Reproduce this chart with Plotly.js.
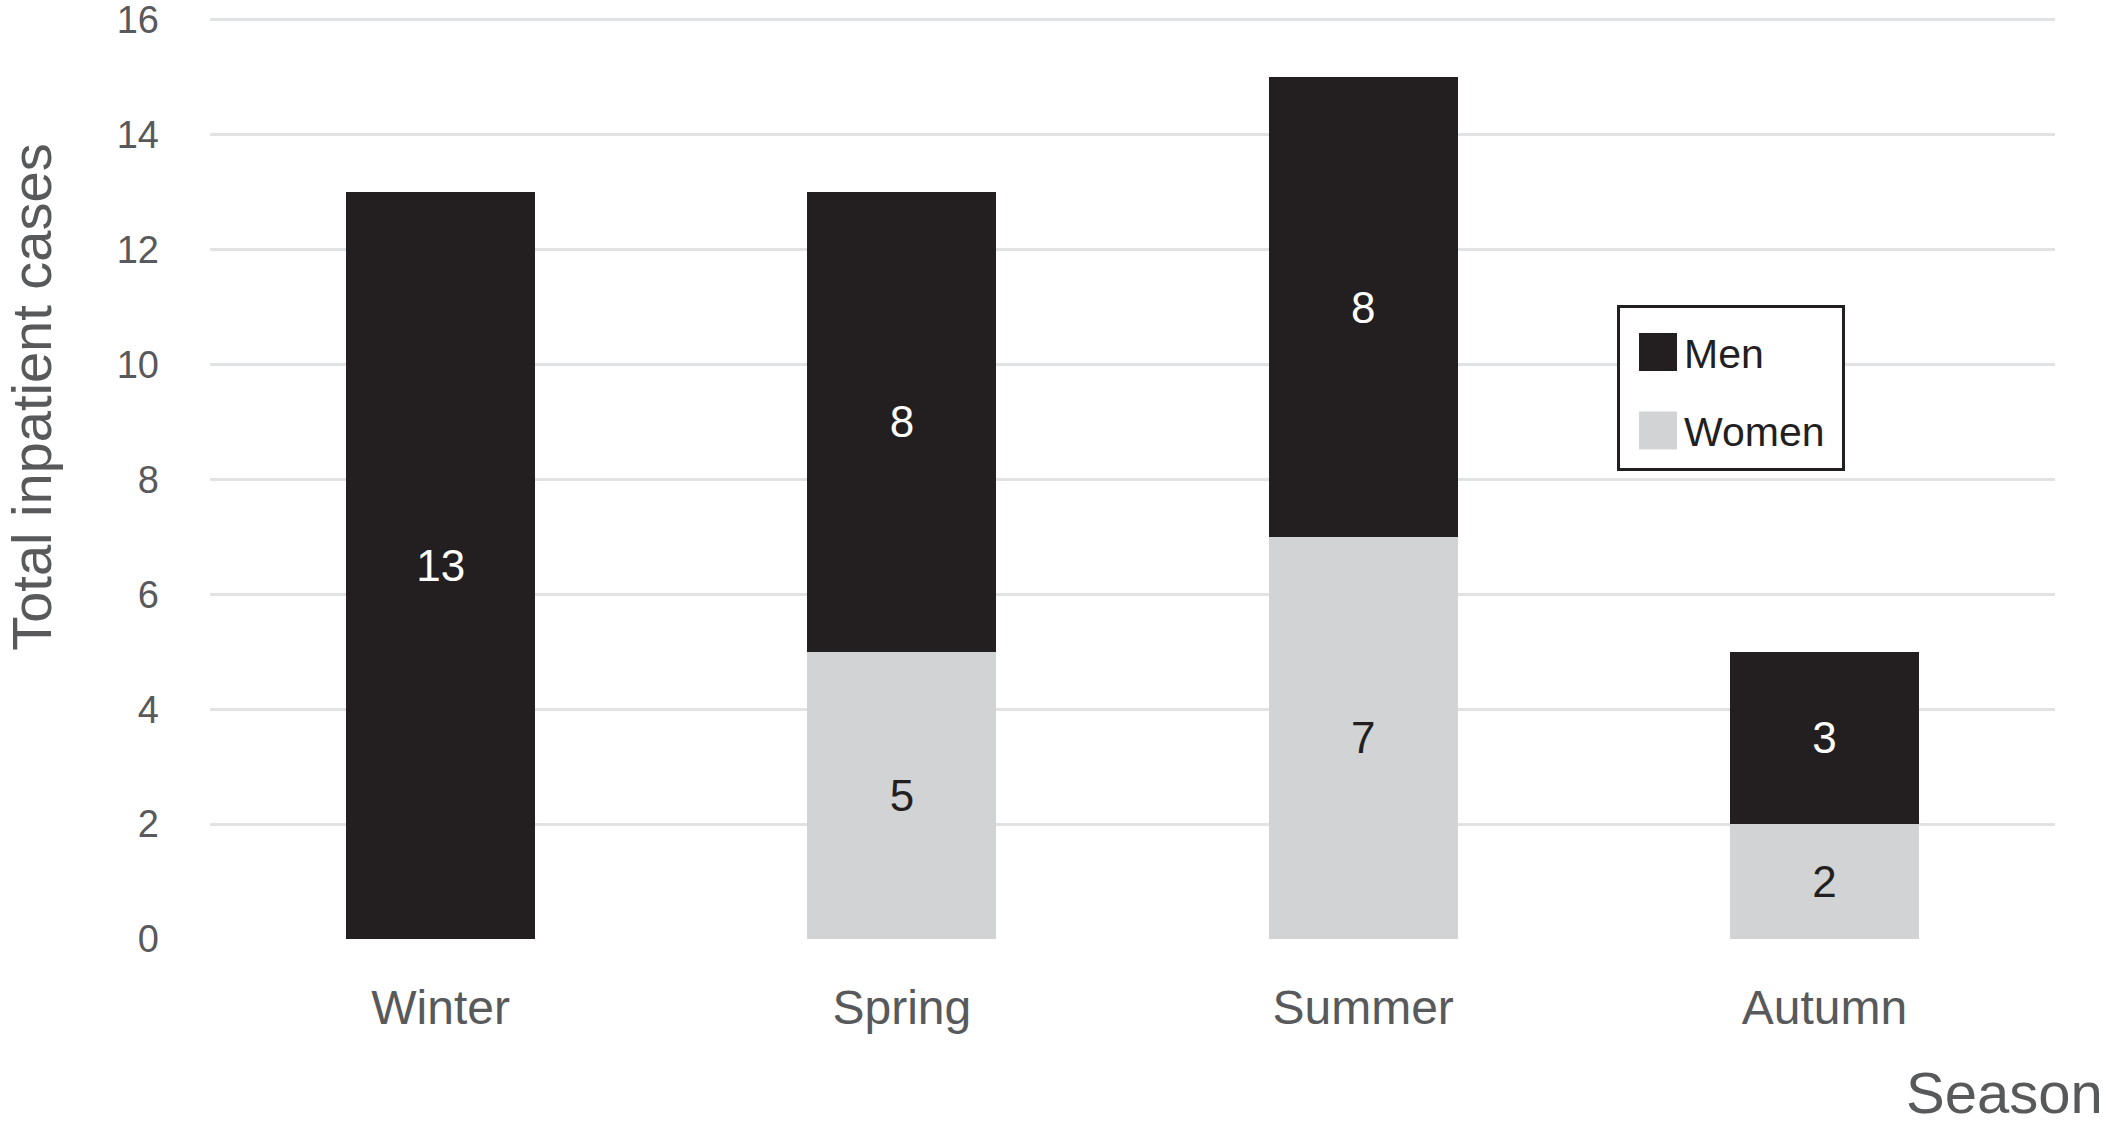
<!DOCTYPE html>
<html>
<head>
<meta charset="utf-8">
<script src="https://cdn.plot.ly/plotly-3.0.1.min.js"></script>
<style>
  html, body { margin: 0; padding: 0; background: #ffffff; }
  #chart { width: 2109px; height: 1128px; }
</style>
</head>
<body>
<div id="chart"></div>
<script>
const seasons = ["Winter", "Spring", "Summer", "Autumn"];
const men = [13, 8, 8, 3];
const women = [0, 5, 7, 2];
const yTicks = [0, 2, 4, 6, 8, 10, 12, 14, 16];

const FONT = "Liberation Sans, Arial, Helvetica, sans-serif";
const label = v => (v > 0 ? String(v) : "");

const traces = [
  {
    type: "bar",
    name: "Women",
    x: seasons,
    y: women,
    text: women.map(label),
    textposition: "inside",
    insidetextanchor: "middle",
    textangle: 0,
    constraintext: "none",
    textfont: { family: FONT, size: 44, color: "#231f20" },
    marker: { color: "#d1d3d4", line: { width: 0 } },
    legendgroup: "w",
    legendrank: 2,
    hoverinfo: "x+y+name"
  },
  {
    type: "bar",
    name: "Men",
    x: seasons,
    y: men,
    text: men.map(label),
    textposition: "inside",
    insidetextanchor: "middle",
    textangle: 0,
    constraintext: "none",
    textfont: { family: FONT, size: 44, color: "#ffffff" },
    marker: { color: "#231f20", line: { width: 0 } },
    legendgroup: "m",
    legendrank: 1,
    hoverinfo: "x+y+name"
  }
];

const layout = {
  width: 2109,
  height: 1128,
  paper_bgcolor: "#ffffff",
  plot_bgcolor: "#ffffff",
  font: { family: FONT, color: "#58595b" },
  margin: { l: 210, r: 54, t: 17, b: 189, pad: 0 },
  barmode: "stack",
  bargap: 0.59,
  showlegend: true,
  legend: {
    x: 0.7626, y: 0.6877, xanchor: "left", yanchor: "top",
    bgcolor: "#ffffff",
    bordercolor: "#231f20",
    borderwidth: 3,
    font: { family: FONT, size: 41, color: "#231f20" },
    traceorder: "grouped",
    tracegroupgap: 22,
    itemwidth: 54
  },
  xaxis: {
    type: "category",
    showgrid: false,
    showline: false,
    zeroline: false,
    ticks: "",
    ticklabelstandoff: 36,
    tickfont: { family: FONT, size: 48, color: "#58595b" }
  },
  yaxis: {
    range: [0, 16.05],
    tickmode: "array",
    tickvals: yTicks,
    ticktext: yTicks.map(String),
    ticklabeloverflow: "allow",
    showgrid: true,
    gridcolor: "#e1e2e3",
    gridwidth: 3,
    zeroline: false,
    showline: false,
    ticks: "",
    ticklabelstandoff: 50,
    tickfont: { family: FONT, size: 38, color: "#58595b" }
  },
  annotations: [
    {
      text: "Total inpatient cases",
      xref: "paper", yref: "paper",
      x: 0, y: 0.587,
      xshift: -178,
      xanchor: "center", yanchor: "middle",
      textangle: -90,
      showarrow: false,
      font: { family: FONT, size: 56, color: "#58595b" }
    },
    {
      text: "Season",
      xref: "paper", yref: "paper",
      x: 1, y: -0.167,
      xshift: 50,
      xanchor: "right", yanchor: "middle",
      showarrow: false,
      font: { family: FONT, size: 58, color: "#58595b" }
    }
  ]
};

Plotly.newPlot("chart", traces, layout, { displayModeBar: false, staticPlot: true }).then(gd => {
  gd.querySelectorAll(".legend .legendpoints path").forEach(p => {
    p.setAttribute("d", "M25,19H-13V-19H25Z");
  });
  const leg = gd.querySelector(".legend");
  if (leg) {
    const bg = leg.querySelector("rect.bg");
    const box = leg.querySelector(".scrollbox");
    if (bg) {
      const h = parseFloat(bg.getAttribute("height"));
      const w = parseFloat(bg.getAttribute("width"));
      bg.setAttribute("height", h + 15);
      bg.setAttribute("width", w + 12);
    }
    if (box) {
      box.removeAttribute("clip-path");
      const t = box.getAttribute("transform") || "";
      box.setAttribute("transform", t + " translate(0,11)");
    }
  }
});
</script>
</body>
</html>
